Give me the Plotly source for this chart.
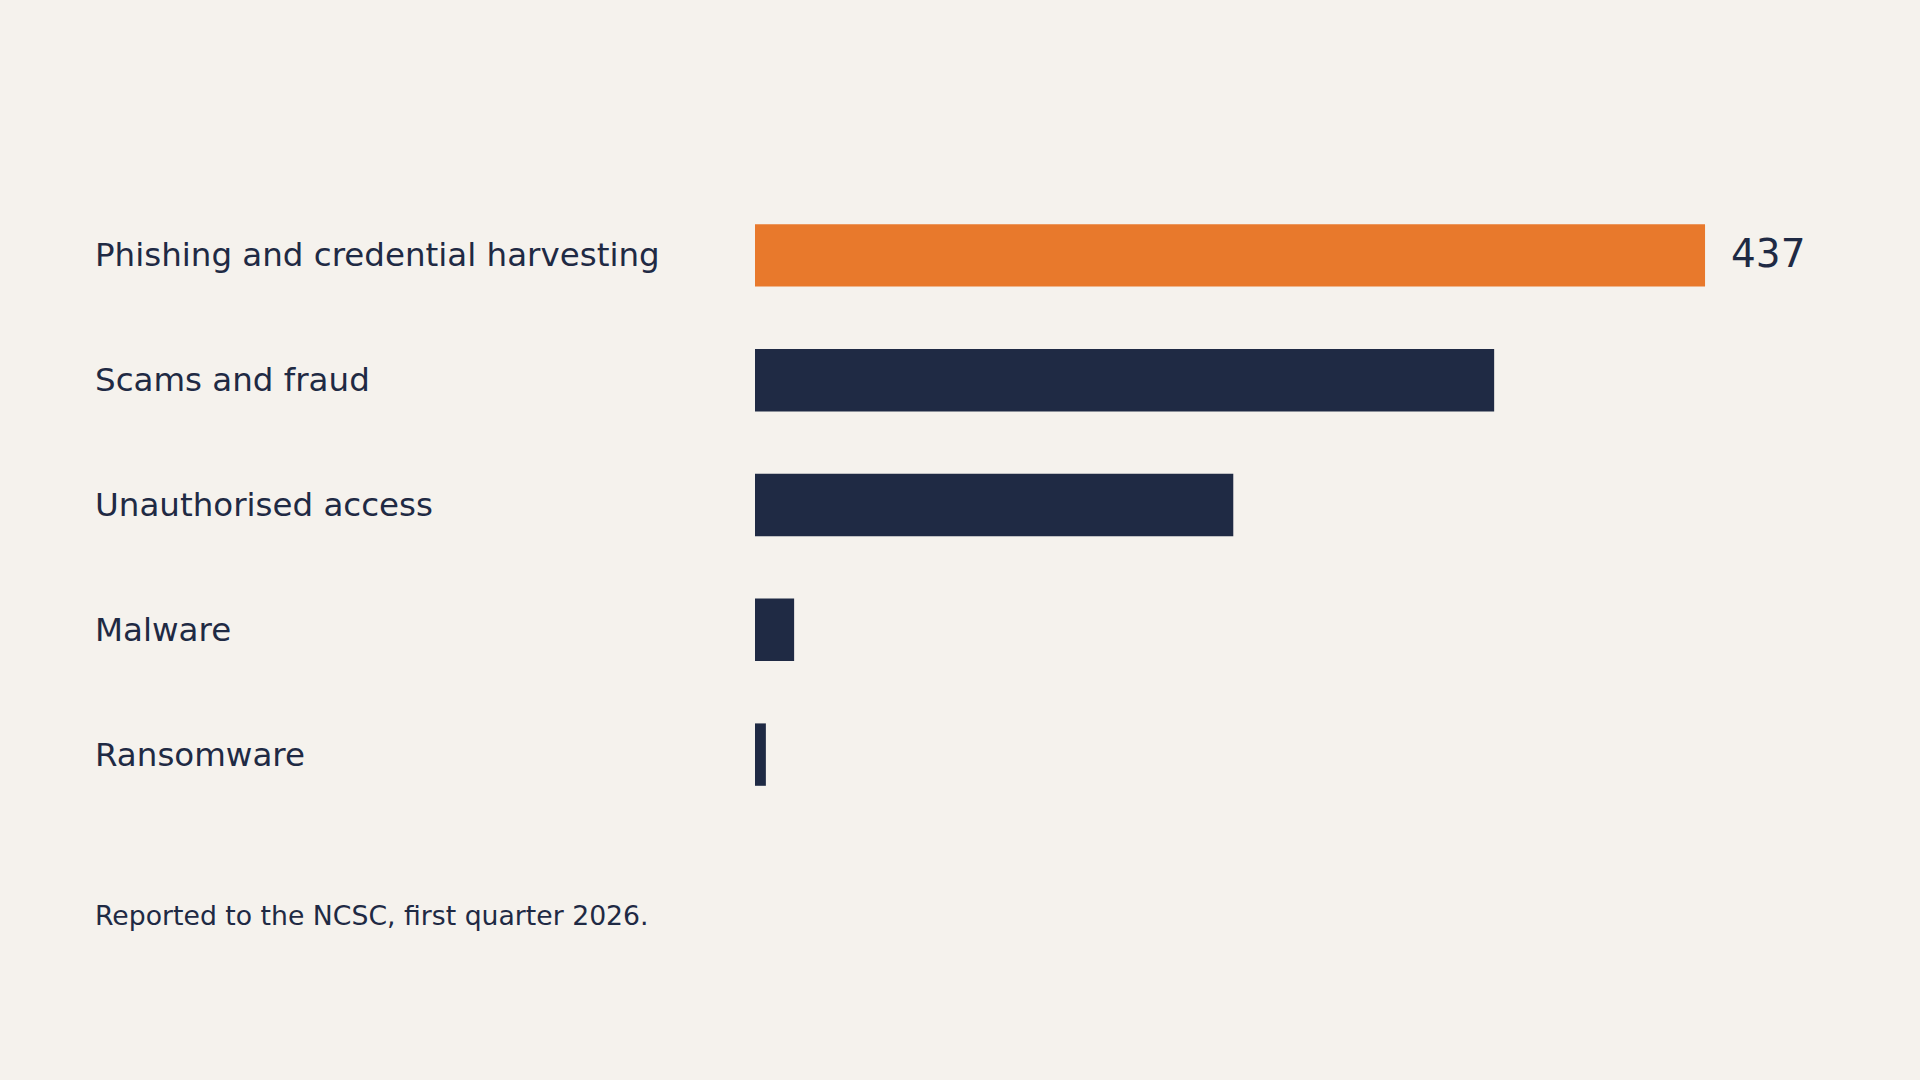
import plotly.graph_objects as go

# data
categories = ['Phishing and credential harvesting', 'Scams and fraud',
              'Unauthorised access', 'Malware', 'Ransomware']
reports = [437, 340, 220, 18, 5]
highlight = 'Phishing and credential harvesting'
footnote = 'Reported to the NCSC, first quarter 2026.'

NAVY = '#1F2A44'
ORANGE = '#E8792C'
BG = '#F5F2ED'
FONT = 'DejaVu Sans'

bar_colors = [ORANGE if c == highlight else NAVY for c in categories]

fig = go.Figure()
fig.add_trace(go.Bar(x=reports, y=categories, orientation='h',
                     marker=dict(color=bar_colors, line=dict(width=0)),
                     hoverinfo='skip'))

# category labels, left aligned at the left edge of the page
for c in categories:
    fig.add_annotation(x=0, xref='paper', y=c, yref='y',
                       text=c, showarrow=False, xanchor='left', yanchor='middle',
                       xshift=-662, yshift=0,
                       font=dict(family=FONT, size=32.5, color=NAVY))

# value label for the highlighted bar
top_value = reports[categories.index(highlight)]
fig.add_annotation(x=top_value, y=highlight, text=str(top_value), showarrow=False,
                   xanchor='left', yanchor='middle', xshift=24, yshift=2,
                   font=dict(family=FONT, size=39, color=NAVY))

fig.add_annotation(x=0, xref='paper', y=-0.158, yref='paper', text=footnote,
                   showarrow=False, xanchor='left', yanchor='middle', xshift=-662,
                   font=dict(family=FONT, size=26.7, color=NAVY))

fig.update_layout(
    width=1920, height=1080,
    margin=dict(l=755, r=78, t=192.5, b=262.5),
    paper_bgcolor=BG, plot_bgcolor=BG,
    bargap=0.5, showlegend=False,
    font=dict(family=FONT, color=NAVY),
    xaxis=dict(range=[0, 500], visible=False, fixedrange=True),
    yaxis=dict(categoryorder='array', categoryarray=categories, autorange='reversed',
               visible=False, fixedrange=True),
)

# drop the default page margin so the figure fills the window
fig.write_html('out.html', config={'displayModeBar': False},
               post_script="document.body.style.margin='0';document.body.style.background='#F5F2ED';")
